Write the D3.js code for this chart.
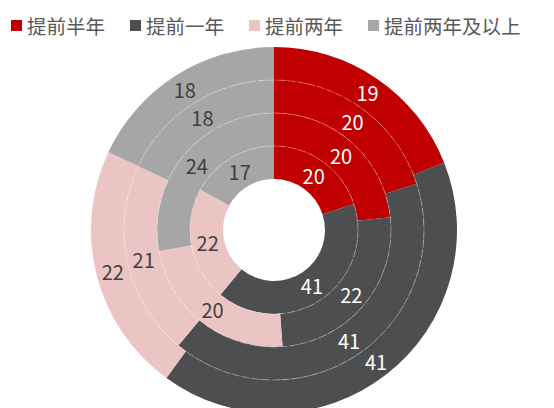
<!DOCTYPE html>
<html>
<head>
<meta charset="utf-8">
<script src="https://cdn.jsdelivr.net/npm/d3@7"></script>
<style>
  body { margin: 0; background: #fff; }
  svg { display: block; font-family: "Noto Sans CJK SC", "Noto Sans", sans-serif; }
</style>
</head>
<body>
<script>
const w = 554;
const h = 408;

const categories = ['提前半年', '提前一年', '提前两年', '提前两年及以上'];
const colors = ['#C00000', '#4D4E50', '#EBC4C4', '#A6A6A6'];
const labelColors = ['#ffffff', '#ffffff', '#404040', '#404040'];

// inner ring -> outer ring
const ring1 = [20, 41, 22, 17];
const ring2 = [20, 22, 20, 24];
const ring3 = [20, 41, 21, 18];
const ring4 = [19, 41, 22, 18];
const rings = [ring1, ring2, ring3, ring4];

const cx = 274;
const cy = 230;

let svg = d3.select('body')
  .append('svg')
  .attr('width', w)
  .attr('height', h);

// ring index -> radius
let rScale = d3.scaleLinear()
  .domain([0, rings.length])
  .range([51, 183]);

let pie = d3.pie().sort(null).value(d => d);

let chart = svg.append('g')
  .attr('transform', 'translate(' + cx + ',' + cy + ')');

let arcLayer = chart.append('g');
let sepLayer = chart.append('g');
let labelLayer = chart.append('g');

rings.forEach((ring, i) => {
  let arc = d3.arc()
    .innerRadius(rScale(i))
    .outerRadius(rScale(i + 1));

  let arcs = pie(ring);

  arcLayer.append('g')
    .selectAll('path')
    .data(arcs)
    .enter()
    .append('path')
    .attr('d', arc)
    .attr('fill', (d, j) => colors[j]);

  labelLayer.append('g')
    .selectAll('text')
    .data(arcs)
    .enter()
    .append('text')
    .attr('transform', d => 'translate(' + arc.centroid(d) + ')')
    .attr('text-anchor', 'middle')
    .attr('dominant-baseline', 'central')
    .attr('font-size', 20)
    .attr('fill', (d, j) => labelColors[j])
    .text(d => d.data);
});

// faint dashed separators between rings
sepLayer.selectAll('circle')
  .data(d3.range(1, rings.length))
  .enter()
  .append('circle')
  .attr('r', d => rScale(d))
  .attr('fill', 'none')
  .attr('stroke', '#ffffff')
  .attr('stroke-opacity', 0.3)
  .attr('stroke-width', 1)
  .attr('stroke-dasharray', '8,2');

// legend
let legend = svg.append('g').attr('class', 'legend');
let lx = 11;
categories.forEach((c, i) => {
  legend.append('rect')
    .attr('x', lx)
    .attr('y', 20)
    .attr('width', 11)
    .attr('height', 11)
    .attr('fill', colors[i]);
  let t = legend.append('text')
    .attr('x', lx + 16)
    .attr('y', 25.5)
    .attr('dominant-baseline', 'central')
    .attr('font-size', 19.5)
    .attr('fill', '#595959')
    .text(c);
  lx += 16 + t.node().getComputedTextLength() + 25;
});
</script>
</body>
</html>
